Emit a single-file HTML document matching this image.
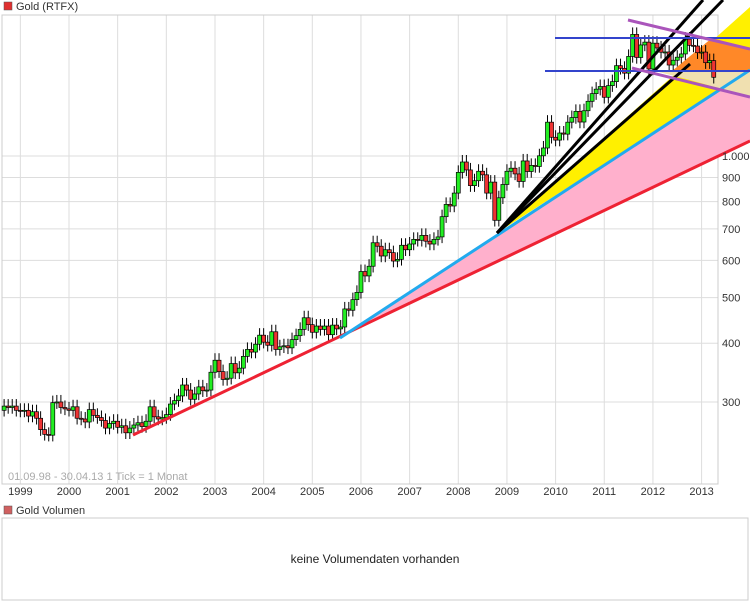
<!DOCTYPE html>
<html><head><meta charset="utf-8"><style>
body{margin:0;background:#fff;font-family:"Liberation Sans",sans-serif;}
svg{display:block}
</style></head><body>
<svg id="c" width="750" height="608" xmlns="http://www.w3.org/2000/svg">
<rect x="0" y="0" width="750" height="608" fill="#fff"/>
<rect x="4" y="2" width="8" height="8" fill="#e03030" stroke="#555" stroke-width="0.5"/>
<text x="16" y="10" font-size="11" fill="#333">Gold (RTFX)</text>
<g id="grid"></g>
<rect x="2" y="15" width="716" height="469" fill="none" stroke="#ccc"/>
<g id="fills"></g>
<g id="candles"></g>
<g id="lines"></g>
<g id="yax"></g>
<g id="xax"></g>
<text x="8" y="480" font-size="11" fill="#aaa">01.09.98 - 30.04.13   1 Tick = 1 Monat</text>
<rect x="4" y="506" width="8" height="8" fill="#d06060" stroke="#555" stroke-width="0.5"/>
<text x="16" y="514" font-size="11" fill="#333">Gold Volumen</text>
<rect x="2" y="518" width="746" height="82" fill="none" stroke="#ccc"/>
<text x="375" y="563" font-size="12" fill="#222" text-anchor="middle">keine Volumendaten vorhanden</text>
</svg>
<script>
const closes=[294,292,294,288,
287,288,280,286,277,262,256,255,299,300,292,290,
288,293,277,276,272,289,281,278,274,264,270,273,
265,267,258,264,268,271,266,273,293,279,276,278,
282,297,302,309,326,318,304,312,323,317,318,347,
368,348,335,337,362,346,354,375,388,383,398,416,
402,396,423,388,393,395,391,407,415,428,453,438,
422,435,428,435,417,437,429,433,473,470,495,513,
568,556,583,654,643,613,632,623,598,603,646,632,
650,665,662,678,659,650,665,673,743,789,783,834,
923,971,934,865,886,928,912,834,880,730,815,870,
928,942,916,883,976,927,955,950,1001,1040,1180,1096,
1081,1119,1113,1180,1207,1244,1181,1248,1307,1357,1387,1405,
1333,1411,1439,1556,1536,1500,1628,1813,1620,1722,1746,1531,
1737,1697,1662,1664,1561,1598,1622,1648,1772,1719,1713,1658,
1663,1579,1595,1470];
const firstOpen=288;
const yTicks=[300,400,500,600,700,800,900,1000];
const yTickLabels=["300","400","500","600","700","800","900","1.000"];
const years=[1999,2000,2001,2002,2003,2004,2005,2006,2007,2008,2009,2010,2011,2012,2013];
const NS="http://www.w3.org/2000/svg";
function yS(v){return 156-204.3*Math.log(v/1000);}
function xM(i){return 69+(i-16)*4.055;}
function xY(y){return xM(16+12*(y-2000));}
function mk(tag,attrs,parent){const e=document.createElementNS(NS,tag);for(const k in attrs)e.setAttribute(k,attrs[k]);parent.appendChild(e);return e;}
const grid=document.getElementById('grid'),yax=document.getElementById('yax'),xax=document.getElementById('xax');
yTicks.forEach((v,i)=>{const y=yS(v);
 const l=mk('line',{x1:2,x2:718,y1:y,y2:y,stroke:'#ddd'},grid);
 
 
 const t=mk('text',{x:722,y:y+4,'font-size':11,fill:'#333'},yax);t.textContent=yTickLabels[i];
 
 
});
years.forEach(yr=>{const x=xY(yr);
 const l=mk('line',{x1:x,x2:x,y1:15,y2:484,stroke:'#ddd'},grid);
 
 
 const t=mk('text',{x:x,y:495,'font-size':11,fill:'#333','text-anchor':'middle'},xax);t.textContent=yr;
 
 
});
const fills=document.getElementById('fills');
let p;
p=mk('polygon',{points:'340,338 750,70 750,141 340,336',fill:'#ffb0cc'},fills);


p=mk('polygon',{points:'497,233 750,7 750,70',fill:'#fff000'},fills);


p=mk('polygon',{points:'672,71 712,38 750,48 750,71',fill:'#ff8828'},fills);


p=mk('polygon',{points:'655,71 750,71 750,97 690,80',fill:'#f0e0b0'},fills);


const cg=document.getElementById('candles');
let prev=firstOpen;
closes.forEach((c,i)=>{const o=prev;prev=c;const x=xM(i);
 const hi=Math.max(o,c)*1.035,lo=Math.min(o,c)*0.97;
 const w=mk('line',{x1:x,x2:x,y1:yS(hi),y2:yS(lo),stroke:'#000','stroke-width':1},cg);
 
 
 const top=yS(Math.max(o,c)),bot=yS(Math.min(o,c));
 const r=mk('rect',{x:x-2,y:top,width:4,height:Math.max(1,bot-top),fill:c>=o?'#22ee22':'#ee3333',stroke:'#000','stroke-width':0.7},cg);
 
 
});
const lg=document.getElementById('lines');
const L=[['133','435','750','141','#ee2233',3,'support-line-red'],
['340','338','750','70','#22aaee',3,'support-line-blue'],
['497','233','703','0','#000',3,'trend-line-1'],
['497','233','723','0','#000',3,'trend-line-2'],
['497','233','690','64','#000',3,'trend-line-3'],
['555','38','750','38','#3344cc',2,'resistance-line'],
['545','71','750','71','#3344cc',2,'support-line-horizontal'],
['628','20','750','49','#aa55bb',3,'channel-upper'],
['632','68','750','97','#aa55bb',3,'channel-lower']];
L.forEach(a=>{const l=mk('line',{x1:a[0],y1:a[1],x2:a[2],y2:a[3],stroke:a[4],'stroke-width':a[5]},lg);
 
 
});
</script>
</body></html>
